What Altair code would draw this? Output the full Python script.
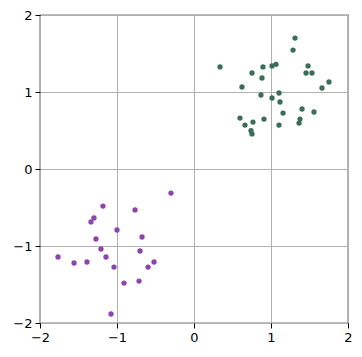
import altair as alt
import pandas as pd

green_x = [0.338, 1.312, 1.286, 0.753, 0.896, 1.013, 1.065, 0.883, 1.455, 1.532,
           1.481, 1.662, 1.753, 0.623, 0.870, 1.013, 1.104, 1.117, 1.156, 1.403,
           1.558, 1.377, 1.364, 1.104, 0.909, 0.766, 0.662, 0.597, 0.740, 0.753]
green_y = [1.325, 1.700, 1.545, 1.247, 1.325, 1.338, 1.359, 1.182, 1.247, 1.247,
           1.338, 1.052, 1.130, 1.065, 0.961, 0.922, 0.987, 0.870, 0.727, 0.779,
           0.740, 0.649, 0.597, 0.571, 0.649, 0.610, 0.571, 0.662, 0.498, 0.455]
purple_x = [-0.299, -1.182, -0.766, -1.299, -1.338, -1.000, -1.273, -0.675, -1.208, -0.701,
            -1.766, -1.143, -1.390, -1.558, -0.519, -1.039, -0.597, -0.909, -0.714, -1.078]
purple_y = [-0.312, -0.481, -0.532, -0.636, -0.688, -0.792, -0.909, -0.883, -1.039, -1.065,
            -1.143, -1.143, -1.208, -1.221, -1.208, -1.273, -1.273, -1.481, -1.455, -1.883]

df = pd.DataFrame({
    "x": green_x + purple_x,
    "y": green_y + purple_y,
    "group": ["A"] * len(green_x) + ["B"] * len(purple_x),
})

ticks = [-2, -1, 0, 1, 2]
axis_common = dict(
    values=ticks, grid=True, gridColor="#b0b0b0", gridWidth=1,
    domain=False, ticks=True, tickColor="black", tickSize=5, tickWidth=1,
    labelFont="DejaVu Sans", labelFontSize=13, labelColor="black", labelPadding=3,
    labelFlush=False, labelOverlap=False,
    title=None, format="d",
)

chart = alt.Chart(df).mark_circle(size=28, opacity=1).encode(
    x=alt.X("x:Q", scale=alt.Scale(domain=[-2, 2], nice=False, zero=False),
            axis=alt.Axis(**axis_common)),
    y=alt.Y("y:Q", scale=alt.Scale(domain=[-2, 2], nice=False, zero=False),
            axis=alt.Axis(**axis_common)),
    color=alt.Color("group:N", scale=alt.Scale(domain=["A", "B"], range=["#3b6e57", "#8e44ad"]),
                    legend=None),
).properties(
    width=308, height=308,
    autosize=alt.AutoSizeParams(type="none"),
    padding={"left": 40, "top": 15, "right": 14, "bottom": 34},
).configure_view(stroke="black", strokeWidth=1.2)

chart.save("out.html", embed_options={"renderer": "svg", "actions": False})
